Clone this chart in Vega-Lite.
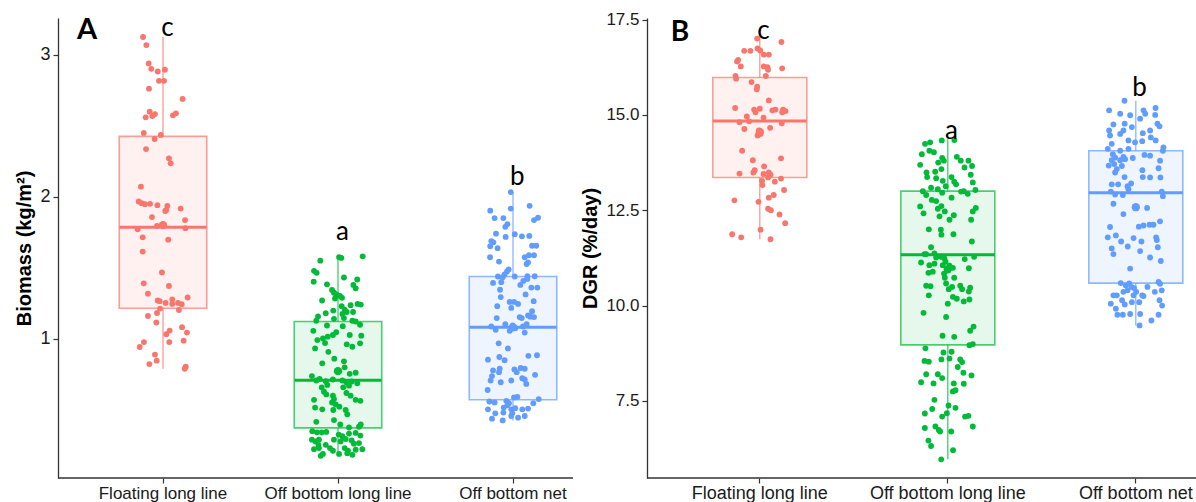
{
"$schema": "https://vega.github.io/schema/vega-lite/v6.json",
"padding": {"left": 14, "top": 10, "right": 0, "bottom": 0},
"bounds": "flush",
"spacing": 74,
"datasets": {
"boxA": [
{"g":"Floating long line","lo":0.788,"q1":1.214,"med":1.786,"q3":2.426,"hi":3.126,"mean":1.80},
{"g":"Off bottom long line","lo":0.174,"q1":0.371,"med":0.707,"q3":1.121,"hi":1.58,"mean":0.771},
{"g":"Off bottom net","lo":0.424,"q1":0.569,"med":1.081,"q3":1.438,"hi":2.033,"mean":1.08}
],
"boxB": [
{"g":"Floating long line","lo":11.74,"q1":13.36,"med":14.84,"q3":15.98,"hi":17.0,"mean":14.55},
{"g":"Off bottom long line","lo":5.97,"q1":8.97,"med":11.33,"q3":13.0,"hi":14.36,"mean":10.95},
{"g":"Off bottom net","lo":9.48,"q1":10.59,"med":12.96,"q3":14.06,"hi":15.37,"mean":12.58}
],
"lblA": [
{"g":"Floating long line","v":3.19,"t":"c"},
{"g":"Off bottom long line","v":1.75,"t":"a"},
{"g":"Off bottom net","v":2.14,"t":"b"}
],
"lblB": [
{"g":"Floating long line","v":17.2,"t":"c"},
{"g":"Off bottom long line","v":14.58,"t":"a"},
{"g":"Off bottom net","v":15.7,"t":"b"}
],
"tagA": [{"g":"Floating long line","v":3.175,"t":"A"}],
"tagB": [{"g":"Floating long line","v":17.15,"t":"B"}],
"ptsA": [
{"g":"Floating long line","v":3.126,"j":-0.114},{"g":"Floating long line","v":3.069,"j":-0.095},{"g":"Floating long line","v":2.940,"j":-0.082},{"g":"Floating long line","v":2.902,"j":-0.067},{"g":"Floating long line","v":2.883,"j":-0.030},{"g":"Floating long line","v":2.895,"j":0.011},{"g":"Floating long line","v":2.817,"j":-0.023},{"g":"Floating long line","v":2.817,"j":0.006},{"g":"Floating long line","v":2.762,"j":-0.080},{"g":"Floating long line","v":2.690,"j":0.112},{"g":"Floating long line","v":2.600,"j":-0.076},{"g":"Floating long line","v":2.560,"j":-0.099},{"g":"Floating long line","v":2.569,"j":-0.061},{"g":"Floating long line","v":2.583,"j":-0.046},{"g":"Floating long line","v":2.574,"j":0.057},{"g":"Floating long line","v":2.588,"j":0.074},{"g":"Floating long line","v":2.450,"j":-0.110},{"g":"Floating long line","v":2.436,"j":-0.013},{"g":"Floating long line","v":2.407,"j":-0.048},{"g":"Floating long line","v":2.336,"j":-0.097},{"g":"Floating long line","v":2.271,"j":0.034},{"g":"Floating long line","v":2.236,"j":0.044},{"g":"Floating long line","v":2.071,"j":-0.126},{"g":"Floating long line","v":1.967,"j":-0.139},{"g":"Floating long line","v":1.955,"j":-0.122},{"g":"Floating long line","v":1.948,"j":-0.103},{"g":"Floating long line","v":1.950,"j":-0.074},{"g":"Floating long line","v":1.941,"j":-0.032},{"g":"Floating long line","v":1.936,"j":0.025},{"g":"Floating long line","v":1.907,"j":0.019},{"g":"Floating long line","v":1.900,"j":0.013},{"g":"Floating long line","v":1.917,"j":0.101},{"g":"Floating long line","v":1.857,"j":-0.063},{"g":"Floating long line","v":1.836,"j":0.126},{"g":"Floating long line","v":1.771,"j":-0.145},{"g":"Floating long line","v":1.795,"j":-0.034},{"g":"Floating long line","v":1.779,"j":0.128},{"g":"Floating long line","v":1.714,"j":-0.116},{"g":"Floating long line","v":1.698,"j":0.030},{"g":"Floating long line","v":1.614,"j":-0.116},{"g":"Floating long line","v":1.467,"j":-0.006},{"g":"Floating long line","v":1.390,"j":-0.110},{"g":"Floating long line","v":1.371,"j":0.034},{"g":"Floating long line","v":1.317,"j":-0.086},{"g":"Floating long line","v":1.290,"j":0.141},{"g":"Floating long line","v":1.269,"j":-0.030},{"g":"Floating long line","v":1.264,"j":-0.019},{"g":"Floating long line","v":1.252,"j":0.015},{"g":"Floating long line","v":1.276,"j":0.053},{"g":"Floating long line","v":1.245,"j":0.053},{"g":"Floating long line","v":1.252,"j":0.086},{"g":"Floating long line","v":1.243,"j":0.107},{"g":"Floating long line","v":1.202,"j":0.091},{"g":"Floating long line","v":1.212,"j":-0.017},{"g":"Floating long line","v":1.181,"j":-0.034},{"g":"Floating long line","v":1.160,"j":-0.086},{"g":"Floating long line","v":1.114,"j":-0.038},{"g":"Floating long line","v":1.081,"j":0.109},{"g":"Floating long line","v":1.043,"j":0.137},{"g":"Floating long line","v":1.057,"j":0.038},{"g":"Floating long line","v":1.031,"j":0.019},{"g":"Floating long line","v":0.976,"j":-0.109},{"g":"Floating long line","v":0.941,"j":-0.133},{"g":"Floating long line","v":0.976,"j":0.036},{"g":"Floating long line","v":0.986,"j":0.118},{"g":"Floating long line","v":0.888,"j":-0.046},{"g":"Floating long line","v":0.845,"j":-0.036},{"g":"Floating long line","v":0.821,"j":-0.078},{"g":"Floating long line","v":0.802,"j":0.130},{"g":"Floating long line","v":0.788,"j":0.124},
{"g":"Off bottom long line","v":1.580,"j":0.141},{"g":"Off bottom long line","v":1.550,"j":-0.101},{"g":"Off bottom long line","v":1.575,"j":0.006},{"g":"Off bottom long line","v":1.569,"j":0.019},{"g":"Off bottom long line","v":1.478,"j":-0.137},{"g":"Off bottom long line","v":1.464,"j":-0.122},{"g":"Off bottom long line","v":1.402,"j":-0.139},{"g":"Off bottom long line","v":1.431,"j":0.034},{"g":"Off bottom long line","v":1.383,"j":-0.063},{"g":"Off bottom long line","v":1.417,"j":0.110},{"g":"Off bottom long line","v":1.379,"j":0.088},{"g":"Off bottom long line","v":1.355,"j":0.101},{"g":"Off bottom long line","v":1.343,"j":-0.034},{"g":"Off bottom long line","v":1.324,"j":-0.023},{"g":"Off bottom long line","v":1.312,"j":-0.010},{"g":"Off bottom long line","v":1.302,"j":0.011},{"g":"Off bottom long line","v":1.288,"j":0.023},{"g":"Off bottom long line","v":1.269,"j":-0.091},{"g":"Off bottom long line","v":1.283,"j":-0.017},{"g":"Off bottom long line","v":1.245,"j":0.112},{"g":"Off bottom long line","v":1.240,"j":0.130},{"g":"Off bottom long line","v":1.229,"j":0.021},{"g":"Off bottom long line","v":1.236,"j":0.072},{"g":"Off bottom long line","v":1.205,"j":0.038},{"g":"Off bottom long line","v":1.179,"j":-0.070},{"g":"Off bottom long line","v":1.198,"j":-0.027},{"g":"Off bottom long line","v":1.174,"j":0.025},{"g":"Off bottom long line","v":1.188,"j":0.050},{"g":"Off bottom long line","v":1.188,"j":0.086},{"g":"Off bottom long line","v":1.157,"j":-0.114},{"g":"Off bottom long line","v":1.126,"j":-0.124},{"g":"Off bottom long line","v":1.140,"j":-0.023},{"g":"Off bottom long line","v":1.145,"j":0.034},{"g":"Off bottom long line","v":1.126,"j":0.082},{"g":"Off bottom long line","v":1.121,"j":0.101},{"g":"Off bottom long line","v":1.098,"j":0.126},{"g":"Off bottom long line","v":1.093,"j":-0.063},{"g":"Off bottom long line","v":1.088,"j":0.027},{"g":"Off bottom long line","v":1.055,"j":-0.141},{"g":"Off bottom long line","v":1.002,"j":-0.086},{"g":"Off bottom long line","v":1.014,"j":-0.059},{"g":"Off bottom long line","v":1.026,"j":-0.029},{"g":"Off bottom long line","v":1.045,"j":-0.010},{"g":"Off bottom long line","v":1.026,"j":0.067},{"g":"Off bottom long line","v":1.021,"j":0.133},{"g":"Off bottom long line","v":0.967,"j":0.126},{"g":"Off bottom long line","v":0.990,"j":-0.118},{"g":"Off bottom long line","v":0.969,"j":-0.074},{"g":"Off bottom long line","v":0.931,"j":-0.131},{"g":"Off bottom long line","v":0.960,"j":0.050},{"g":"Off bottom long line","v":0.943,"j":0.082},{"g":"Off bottom long line","v":0.907,"j":-0.055},{"g":"Off bottom long line","v":0.859,"j":-0.021},{"g":"Off bottom long line","v":0.840,"j":0.034},{"g":"Off bottom long line","v":0.826,"j":-0.090},{"g":"Off bottom long line","v":0.798,"j":0.038},{"g":"Off bottom long line","v":0.760,"j":0.101},{"g":"Off bottom long line","v":0.752,"j":0.067},{"g":"Off bottom long line","v":0.736,"j":-0.149},{"g":"Off bottom long line","v":0.705,"j":-0.124},{"g":"Off bottom long line","v":0.717,"j":-0.105},{"g":"Off bottom long line","v":0.700,"j":-0.070},{"g":"Off bottom long line","v":0.674,"j":-0.061},{"g":"Off bottom long line","v":0.712,"j":-0.029},{"g":"Off bottom long line","v":0.705,"j":0.025},{"g":"Off bottom long line","v":0.693,"j":0.048},{"g":"Off bottom long line","v":0.698,"j":0.078},{"g":"Off bottom long line","v":0.686,"j":0.110},{"g":"Off bottom long line","v":0.657,"j":-0.093},{"g":"Off bottom long line","v":0.657,"j":0.030},{"g":"Off bottom long line","v":0.669,"j":0.063},{"g":"Off bottom long line","v":0.626,"j":-0.080},{"g":"Off bottom long line","v":0.607,"j":-0.067},{"g":"Off bottom long line","v":0.598,"j":-0.029},{"g":"Off bottom long line","v":0.574,"j":-0.023},{"g":"Off bottom long line","v":0.617,"j":0.048},{"g":"Off bottom long line","v":0.598,"j":0.072},{"g":"Off bottom long line","v":0.569,"j":-0.137},{"g":"Off bottom long line","v":0.550,"j":-0.034},{"g":"Off bottom long line","v":0.536,"j":-0.013},{"g":"Off bottom long line","v":0.569,"j":0.101},{"g":"Off bottom long line","v":0.562,"j":0.128},{"g":"Off bottom long line","v":0.514,"j":-0.131},{"g":"Off bottom long line","v":0.502,"j":-0.090},{"g":"Off bottom long line","v":0.497,"j":-0.027},{"g":"Off bottom long line","v":0.521,"j":0.008},{"g":"Off bottom long line","v":0.497,"j":0.044},{"g":"Off bottom long line","v":0.467,"j":0.053},{"g":"Off bottom long line","v":0.414,"j":-0.124},{"g":"Off bottom long line","v":0.426,"j":-0.023},{"g":"Off bottom long line","v":0.395,"j":0.013},{"g":"Off bottom long line","v":0.374,"j":0.063},{"g":"Off bottom long line","v":0.395,"j":0.130},{"g":"Off bottom long line","v":0.379,"j":0.120},{"g":"Off bottom long line","v":0.348,"j":-0.147},{"g":"Off bottom long line","v":0.340,"j":-0.120},{"g":"Off bottom long line","v":0.340,"j":-0.093},{"g":"Off bottom long line","v":0.343,"j":-0.067},{"g":"Off bottom long line","v":0.324,"j":0.004},{"g":"Off bottom long line","v":0.312,"j":0.025},{"g":"Off bottom long line","v":0.331,"j":0.063},{"g":"Off bottom long line","v":0.336,"j":0.101},{"g":"Off bottom long line","v":0.317,"j":0.128},{"g":"Off bottom long line","v":0.288,"j":-0.149},{"g":"Off bottom long line","v":0.276,"j":-0.128},{"g":"Off bottom long line","v":0.288,"j":-0.109},{"g":"Off bottom long line","v":0.288,"j":-0.023},{"g":"Off bottom long line","v":0.276,"j":0.015},{"g":"Off bottom long line","v":0.293,"j":0.044},{"g":"Off bottom long line","v":0.283,"j":0.078},{"g":"Off bottom long line","v":0.221,"j":-0.137},{"g":"Off bottom long line","v":0.229,"j":-0.109},{"g":"Off bottom long line","v":0.229,"j":-0.046},{"g":"Off bottom long line","v":0.210,"j":-0.029},{"g":"Off bottom long line","v":0.229,"j":0.038},{"g":"Off bottom long line","v":0.210,"j":0.057},{"g":"Off bottom long line","v":0.217,"j":0.101},{"g":"Off bottom long line","v":0.221,"j":0.139},{"g":"Off bottom long line","v":0.174,"j":-0.099},{"g":"Off bottom long line","v":0.188,"j":-0.086},{"g":"Off bottom long line","v":0.188,"j":0.006},{"g":"Off bottom long line","v":0.193,"j":0.053},{"g":"Off bottom long line","v":0.181,"j":0.082},{"g":"Off bottom long line","v":0.252,"j":-0.112},{"g":"Off bottom long line","v":0.252,"j":-0.070},{"g":"Off bottom long line","v":0.260,"j":0.091},{"g":"Off bottom long line","v":0.264,"j":0.120},
{"g":"Off bottom net","v":2.033,"j":-0.013},{"g":"Off bottom net","v":1.902,"j":-0.130},{"g":"Off bottom net","v":1.917,"j":-0.013},{"g":"Off bottom net","v":1.936,"j":0.095},{"g":"Off bottom net","v":1.850,"j":-0.105},{"g":"Off bottom net","v":1.850,"j":-0.055},{"g":"Off bottom net","v":1.807,"j":-0.032},{"g":"Off bottom net","v":1.788,"j":-0.044},{"g":"Off bottom net","v":1.836,"j":0.120},{"g":"Off bottom net","v":1.852,"j":0.143},{"g":"Off bottom net","v":1.740,"j":-0.097},{"g":"Off bottom net","v":1.717,"j":-0.042},{"g":"Off bottom net","v":1.736,"j":0.010},{"g":"Off bottom net","v":1.721,"j":0.051},{"g":"Off bottom net","v":1.724,"j":0.093},{"g":"Off bottom net","v":1.688,"j":-0.124},{"g":"Off bottom net","v":1.679,"j":-0.112},{"g":"Off bottom net","v":1.652,"j":-0.130},{"g":"Off bottom net","v":1.638,"j":-0.088},{"g":"Off bottom net","v":1.655,"j":0.109},{"g":"Off bottom net","v":1.655,"j":0.133},{"g":"Off bottom net","v":1.574,"j":-0.131},{"g":"Off bottom net","v":1.543,"j":-0.080},{"g":"Off bottom net","v":1.574,"j":0.067},{"g":"Off bottom net","v":1.588,"j":0.091},{"g":"Off bottom net","v":1.588,"j":0.120},{"g":"Off bottom net","v":1.526,"j":0.078},{"g":"Off bottom net","v":1.538,"j":0.086},{"g":"Off bottom net","v":1.488,"j":-0.025},{"g":"Off bottom net","v":1.474,"j":-0.034},{"g":"Off bottom net","v":1.452,"j":-0.048},{"g":"Off bottom net","v":1.438,"j":-0.086},{"g":"Off bottom net","v":1.433,"j":-0.059},{"g":"Off bottom net","v":1.438,"j":0.010},{"g":"Off bottom net","v":1.440,"j":0.082},{"g":"Off bottom net","v":1.440,"j":0.124},{"g":"Off bottom net","v":1.393,"j":-0.114},{"g":"Off bottom net","v":1.398,"j":-0.067},{"g":"Off bottom net","v":1.379,"j":0.042},{"g":"Off bottom net","v":1.407,"j":0.059},{"g":"Off bottom net","v":1.421,"j":0.082},{"g":"Off bottom net","v":1.360,"j":0.105},{"g":"Off bottom net","v":1.360,"j":0.139},{"g":"Off bottom net","v":1.345,"j":-0.074},{"g":"Off bottom net","v":1.312,"j":0.072},{"g":"Off bottom net","v":1.293,"j":-0.070},{"g":"Off bottom net","v":1.259,"j":-0.019},{"g":"Off bottom net","v":1.259,"j":0.006},{"g":"Off bottom net","v":1.245,"j":0.029},{"g":"Off bottom net","v":1.217,"j":-0.010},{"g":"Off bottom net","v":1.229,"j":-0.090},{"g":"Off bottom net","v":1.264,"j":0.118},{"g":"Off bottom net","v":1.193,"j":0.109},{"g":"Off bottom net","v":1.155,"j":0.099},{"g":"Off bottom net","v":1.145,"j":-0.093},{"g":"Off bottom net","v":1.152,"j":0.038},{"g":"Off bottom net","v":1.145,"j":0.050},{"g":"Off bottom net","v":1.164,"j":0.086},{"g":"Off bottom net","v":1.152,"j":0.120},{"g":"Off bottom net","v":1.102,"j":-0.044},{"g":"Off bottom net","v":1.086,"j":-0.124},{"g":"Off bottom net","v":1.093,"j":-0.002},{"g":"Off bottom net","v":1.074,"j":0.013},{"g":"Off bottom net","v":1.055,"j":-0.019},{"g":"Off bottom net","v":1.086,"j":0.057},{"g":"Off bottom net","v":1.102,"j":0.078},{"g":"Off bottom net","v":1.043,"j":0.067},{"g":"Off bottom net","v":1.062,"j":-0.099},{"g":"Off bottom net","v":0.967,"j":-0.082},{"g":"Off bottom net","v":0.931,"j":-0.029},{"g":"Off bottom net","v":0.883,"j":0.137},{"g":"Off bottom net","v":0.852,"j":-0.143},{"g":"Off bottom net","v":0.871,"j":-0.078},{"g":"Off bottom net","v":0.848,"j":-0.048},{"g":"Off bottom net","v":0.879,"j":0.088},{"g":"Off bottom net","v":0.776,"j":-0.114},{"g":"Off bottom net","v":0.788,"j":-0.076},{"g":"Off bottom net","v":0.764,"j":-0.080},{"g":"Off bottom net","v":0.783,"j":0.008},{"g":"Off bottom net","v":0.793,"j":0.044},{"g":"Off bottom net","v":0.788,"j":0.067},{"g":"Off bottom net","v":0.764,"j":0.021},{"g":"Off bottom net","v":0.736,"j":-0.120},{"g":"Off bottom net","v":0.705,"j":-0.128},{"g":"Off bottom net","v":0.745,"j":0.126},{"g":"Off bottom net","v":0.721,"j":0.053},{"g":"Off bottom net","v":0.693,"j":-0.070},{"g":"Off bottom net","v":0.705,"j":-0.010},{"g":"Off bottom net","v":0.712,"j":0.067},{"g":"Off bottom net","v":0.638,"j":-0.145},{"g":"Off bottom net","v":0.681,"j":0.076},{"g":"Off bottom net","v":0.557,"j":-0.135},{"g":"Off bottom net","v":0.550,"j":-0.105},{"g":"Off bottom net","v":0.562,"j":-0.038},{"g":"Off bottom net","v":0.545,"j":-0.023},{"g":"Off bottom net","v":0.586,"j":0.006},{"g":"Off bottom net","v":0.590,"j":0.025},{"g":"Off bottom net","v":0.574,"j":0.147},{"g":"Off bottom net","v":0.514,"j":-0.053},{"g":"Off bottom net","v":0.531,"j":-0.032},{"g":"Off bottom net","v":0.502,"j":-0.010},{"g":"Off bottom net","v":0.510,"j":0.013},{"g":"Off bottom net","v":0.502,"j":0.053},{"g":"Off bottom net","v":0.507,"j":0.086},{"g":"Off bottom net","v":0.545,"j":0.116},{"g":"Off bottom net","v":0.502,"j":-0.143},{"g":"Off bottom net","v":0.474,"j":-0.101},{"g":"Off bottom net","v":0.479,"j":-0.055},{"g":"Off bottom net","v":0.474,"j":-0.004},{"g":"Off bottom net","v":0.455,"j":0.067},{"g":"Off bottom net","v":0.436,"j":-0.120},{"g":"Off bottom net","v":0.424,"j":-0.059},{"g":"Off bottom net","v":0.455,"j":-0.010},{"g":"Off bottom net","v":0.443,"j":0.029}
],
"ptsB": [
{"g":"Floating long line","v":17.00,"j":-0.014},{"g":"Floating long line","v":16.91,"j":0.115},{"g":"Floating long line","v":16.68,"j":-0.083},{"g":"Floating long line","v":16.68,"j":-0.050},{"g":"Floating long line","v":16.74,"j":-0.012},{"g":"Floating long line","v":16.69,"j":0.002},{"g":"Floating long line","v":16.58,"j":0.021},{"g":"Floating long line","v":16.58,"j":0.048},{"g":"Floating long line","v":16.44,"j":-0.115},{"g":"Floating long line","v":16.27,"j":-0.101},{"g":"Floating long line","v":16.40,"j":-0.121},{"g":"Floating long line","v":16.27,"j":0.021},{"g":"Floating long line","v":16.25,"j":0.041},{"g":"Floating long line","v":16.22,"j":0.119},{"g":"Floating long line","v":16.18,"j":0.044},{"g":"Floating long line","v":16.02,"j":-0.129},{"g":"Floating long line","v":15.95,"j":-0.126},{"g":"Floating long line","v":16.02,"j":0.032},{"g":"Floating long line","v":15.86,"j":-0.044},{"g":"Floating long line","v":15.74,"j":-0.014},{"g":"Floating long line","v":15.67,"j":-0.016},{"g":"Floating long line","v":15.38,"j":0.048},{"g":"Floating long line","v":15.18,"j":-0.131},{"g":"Floating long line","v":15.14,"j":-0.030},{"g":"Floating long line","v":15.07,"j":-0.023},{"g":"Floating long line","v":15.16,"j":0.000},{"g":"Floating long line","v":15.12,"j":0.067},{"g":"Floating long line","v":15.14,"j":0.083},{"g":"Floating long line","v":15.14,"j":0.124},{"g":"Floating long line","v":15.10,"j":0.137},{"g":"Floating long line","v":15.07,"j":0.119},{"g":"Floating long line","v":14.96,"j":-0.069},{"g":"Floating long line","v":14.81,"j":-0.108},{"g":"Floating long line","v":14.83,"j":-0.057},{"g":"Floating long line","v":14.93,"j":0.020},{"g":"Floating long line","v":14.78,"j":0.117},{"g":"Floating long line","v":14.63,"j":-0.082},{"g":"Floating long line","v":14.66,"j":0.055},{"g":"Floating long line","v":14.59,"j":-0.005},{"g":"Floating long line","v":14.50,"j":0.004},{"g":"Floating long line","v":14.46,"j":-0.012},{"g":"Floating long line","v":14.06,"j":-0.094},{"g":"Floating long line","v":13.81,"j":-0.037},{"g":"Floating long line","v":13.86,"j":0.113},{"g":"Floating long line","v":13.65,"j":0.023},{"g":"Floating long line","v":13.55,"j":-0.027},{"g":"Floating long line","v":13.49,"j":-0.034},{"g":"Floating long line","v":13.46,"j":-0.108},{"g":"Floating long line","v":13.45,"j":0.020},{"g":"Floating long line","v":13.49,"j":0.048},{"g":"Floating long line","v":13.43,"j":0.057},{"g":"Floating long line","v":13.36,"j":0.044},{"g":"Floating long line","v":13.33,"j":0.113},{"g":"Floating long line","v":13.27,"j":0.012},{"g":"Floating long line","v":13.16,"j":0.014},{"g":"Floating long line","v":13.25,"j":0.080},{"g":"Floating long line","v":13.03,"j":0.129},{"g":"Floating long line","v":12.90,"j":0.074},{"g":"Floating long line","v":12.83,"j":0.048},{"g":"Floating long line","v":12.76,"j":-0.135},{"g":"Floating long line","v":12.72,"j":-0.007},{"g":"Floating long line","v":12.54,"j":0.044},{"g":"Floating long line","v":12.50,"j":0.059},{"g":"Floating long line","v":12.39,"j":0.105},{"g":"Floating long line","v":12.16,"j":0.135},{"g":"Floating long line","v":11.99,"j":0.004},{"g":"Floating long line","v":11.87,"j":-0.147},{"g":"Floating long line","v":11.79,"j":-0.099},{"g":"Floating long line","v":11.74,"j":0.057},
{"g":"Off bottom long line","v":14.24,"j":-0.121},{"g":"Off bottom long line","v":14.28,"j":-0.094},{"g":"Off bottom long line","v":14.33,"j":-0.032},{"g":"Off bottom long line","v":14.34,"j":0.035},{"g":"Off bottom long line","v":13.97,"j":-0.138},{"g":"Off bottom long line","v":14.06,"j":-0.098},{"g":"Off bottom long line","v":14.02,"j":-0.074},{"g":"Off bottom long line","v":13.87,"j":-0.030},{"g":"Off bottom long line","v":13.75,"j":-0.051},{"g":"Off bottom long line","v":13.80,"j":-0.021},{"g":"Off bottom long line","v":13.90,"j":0.048},{"g":"Off bottom long line","v":13.80,"j":0.069},{"g":"Off bottom long line","v":13.80,"j":0.110},{"g":"Off bottom long line","v":13.66,"j":0.129},{"g":"Off bottom long line","v":13.69,"j":-0.147},{"g":"Off bottom long line","v":13.49,"j":-0.113},{"g":"Off bottom long line","v":13.51,"j":-0.067},{"g":"Off bottom long line","v":13.58,"j":-0.034},{"g":"Off bottom long line","v":13.62,"j":0.089},{"g":"Off bottom long line","v":13.37,"j":-0.110},{"g":"Off bottom long line","v":13.34,"j":-0.062},{"g":"Off bottom long line","v":13.27,"j":-0.027},{"g":"Off bottom long line","v":13.37,"j":0.020},{"g":"Off bottom long line","v":13.25,"j":0.034},{"g":"Off bottom long line","v":13.43,"j":0.122},{"g":"Off bottom long line","v":13.23,"j":0.133},{"g":"Off bottom long line","v":13.09,"j":-0.089},{"g":"Off bottom long line","v":13.05,"j":-0.053},{"g":"Off bottom long line","v":13.13,"j":-0.011},{"g":"Off bottom long line","v":13.18,"j":0.044},{"g":"Off bottom long line","v":13.00,"j":0.085},{"g":"Off bottom long line","v":13.03,"j":0.147},{"g":"Off bottom long line","v":13.00,"j":-0.133},{"g":"Off bottom long line","v":12.90,"j":-0.115},{"g":"Off bottom long line","v":12.77,"j":-0.085},{"g":"Off bottom long line","v":12.74,"j":-0.062},{"g":"Off bottom long line","v":12.96,"j":-0.030},{"g":"Off bottom long line","v":12.83,"j":0.020},{"g":"Off bottom long line","v":12.99,"j":0.071},{"g":"Off bottom long line","v":12.93,"j":0.106},{"g":"Off bottom long line","v":12.60,"j":-0.147},{"g":"Off bottom long line","v":12.42,"j":-0.129},{"g":"Off bottom long line","v":12.54,"j":-0.053},{"g":"Off bottom long line","v":12.61,"j":-0.034},{"g":"Off bottom long line","v":12.47,"j":-0.016},{"g":"Off bottom long line","v":12.37,"j":0.032},{"g":"Off bottom long line","v":12.56,"j":0.149},{"g":"Off bottom long line","v":12.47,"j":0.133},{"g":"Off bottom long line","v":12.25,"j":0.124},{"g":"Off bottom long line","v":12.34,"j":-0.044},{"g":"Off bottom long line","v":12.25,"j":0.009},{"g":"Off bottom long line","v":12.00,"j":-0.101},{"g":"Off bottom long line","v":11.99,"j":-0.037},{"g":"Off bottom long line","v":11.86,"j":-0.034},{"g":"Off bottom long line","v":11.87,"j":0.030},{"g":"Off bottom long line","v":11.68,"j":0.128},{"g":"Off bottom long line","v":11.53,"j":-0.089},{"g":"Off bottom long line","v":11.35,"j":-0.115},{"g":"Off bottom long line","v":11.37,"j":-0.071},{"g":"Off bottom long line","v":11.26,"j":-0.062},{"g":"Off bottom long line","v":11.28,"j":-0.035},{"g":"Off bottom long line","v":11.35,"j":-0.124},{"g":"Off bottom long line","v":11.24,"j":-0.018},{"g":"Off bottom long line","v":11.15,"j":-0.012},{"g":"Off bottom long line","v":11.05,"j":0.009},{"g":"Off bottom long line","v":10.99,"j":0.027},{"g":"Off bottom long line","v":11.22,"j":0.090},{"g":"Off bottom long line","v":11.28,"j":0.140},{"g":"Off bottom long line","v":11.13,"j":-0.142},{"g":"Off bottom long line","v":11.06,"j":-0.098},{"g":"Off bottom long line","v":11.10,"j":-0.071},{"g":"Off bottom long line","v":10.86,"j":-0.103},{"g":"Off bottom long line","v":10.89,"j":-0.080},{"g":"Off bottom long line","v":11.06,"j":-0.027},{"g":"Off bottom long line","v":10.84,"j":-0.020},{"g":"Off bottom long line","v":10.73,"j":-0.016},{"g":"Off bottom long line","v":10.58,"j":-0.009},{"g":"Off bottom long line","v":10.73,"j":0.034},{"g":"Off bottom long line","v":10.98,"j":0.112},{"g":"Off bottom long line","v":10.52,"j":-0.115},{"g":"Off bottom long line","v":10.51,"j":-0.092},{"g":"Off bottom long line","v":10.27,"j":-0.101},{"g":"Off bottom long line","v":10.43,"j":0.005},{"g":"Off bottom long line","v":10.49,"j":0.023},{"g":"Off bottom long line","v":10.52,"j":0.066},{"g":"Off bottom long line","v":10.43,"j":0.076},{"g":"Off bottom long line","v":10.47,"j":0.119},{"g":"Off bottom long line","v":10.37,"j":0.112},{"g":"Off bottom long line","v":10.23,"j":0.027},{"g":"Off bottom long line","v":10.05,"j":0.000},{"g":"Off bottom long line","v":10.18,"j":0.048},{"g":"Off bottom long line","v":10.11,"j":0.085},{"g":"Off bottom long line","v":10.16,"j":0.115},{"g":"Off bottom long line","v":9.81,"j":-0.129},{"g":"Off bottom long line","v":9.70,"j":-0.009},{"g":"Off bottom long line","v":9.21,"j":-0.028},{"g":"Off bottom long line","v":9.18,"j":0.034},{"g":"Off bottom long line","v":9.34,"j":0.119},{"g":"Off bottom long line","v":9.45,"j":0.137},{"g":"Off bottom long line","v":8.96,"j":0.115},{"g":"Off bottom long line","v":8.99,"j":0.133},{"g":"Off bottom long line","v":8.88,"j":-0.119},{"g":"Off bottom long line","v":8.77,"j":-0.023},{"g":"Off bottom long line","v":8.79,"j":0.020},{"g":"Off bottom long line","v":8.55,"j":-0.124},{"g":"Off bottom long line","v":8.53,"j":-0.101},{"g":"Off bottom long line","v":8.59,"j":-0.034},{"g":"Off bottom long line","v":8.61,"j":0.009},{"g":"Off bottom long line","v":8.59,"j":0.066},{"g":"Off bottom long line","v":8.52,"j":0.076},{"g":"Off bottom long line","v":8.39,"j":0.053},{"g":"Off bottom long line","v":8.24,"j":0.083},{"g":"Off bottom long line","v":8.20,"j":-0.115},{"g":"Off bottom long line","v":8.20,"j":-0.053},{"g":"Off bottom long line","v":8.10,"j":-0.030},{"g":"Off bottom long line","v":8.17,"j":0.126},{"g":"Off bottom long line","v":7.99,"j":-0.142},{"g":"Off bottom long line","v":7.96,"j":-0.076},{"g":"Off bottom long line","v":7.96,"j":0.032},{"g":"Off bottom long line","v":7.75,"j":0.027},{"g":"Off bottom long line","v":7.78,"j":0.041},{"g":"Off bottom long line","v":7.95,"j":0.085},{"g":"Off bottom long line","v":7.53,"j":-0.071},{"g":"Off bottom long line","v":7.38,"j":0.004},{"g":"Off bottom long line","v":7.29,"j":-0.083},{"g":"Off bottom long line","v":7.17,"j":-0.122},{"g":"Off bottom long line","v":7.09,"j":-0.030},{"g":"Off bottom long line","v":7.18,"j":-0.005},{"g":"Off bottom long line","v":7.32,"j":0.041},{"g":"Off bottom long line","v":7.09,"j":0.092},{"g":"Off bottom long line","v":7.11,"j":0.110},{"g":"Off bottom long line","v":6.83,"j":0.133},{"g":"Off bottom long line","v":6.79,"j":-0.122},{"g":"Off bottom long line","v":6.83,"j":-0.066},{"g":"Off bottom long line","v":6.74,"j":-0.048},{"g":"Off bottom long line","v":6.70,"j":-0.041},{"g":"Off bottom long line","v":6.70,"j":0.018},{"g":"Off bottom long line","v":6.46,"j":-0.103},{"g":"Off bottom long line","v":6.32,"j":-0.089},{"g":"Off bottom long line","v":6.21,"j":0.028},{"g":"Off bottom long line","v":5.97,"j":-0.035},
{"g":"Off bottom net","v":15.37,"j":-0.060},{"g":"Off bottom net","v":15.12,"j":-0.142},{"g":"Off bottom net","v":15.03,"j":-0.083},{"g":"Off bottom net","v":14.99,"j":-0.030},{"g":"Off bottom net","v":15.12,"j":0.041},{"g":"Off bottom net","v":15.18,"j":0.105},{"g":"Off bottom net","v":15.03,"j":0.050},{"g":"Off bottom net","v":15.00,"j":0.103},{"g":"Off bottom net","v":14.75,"j":-0.119},{"g":"Off bottom net","v":14.77,"j":-0.059},{"g":"Off bottom net","v":14.90,"j":0.023},{"g":"Off bottom net","v":14.59,"j":0.076},{"g":"Off bottom net","v":14.77,"j":0.115},{"g":"Off bottom net","v":14.70,"j":0.126},{"g":"Off bottom net","v":14.59,"j":-0.142},{"g":"Off bottom net","v":14.46,"j":-0.137},{"g":"Off bottom net","v":14.59,"j":-0.066},{"g":"Off bottom net","v":14.68,"j":-0.021},{"g":"Off bottom net","v":14.50,"j":-0.083},{"g":"Off bottom net","v":14.52,"j":0.037},{"g":"Off bottom net","v":14.41,"j":0.080},{"g":"Off bottom net","v":14.33,"j":0.106},{"g":"Off bottom net","v":14.33,"j":-0.039},{"g":"Off bottom net","v":14.28,"j":-0.004},{"g":"Off bottom net","v":14.31,"j":0.034},{"g":"Off bottom net","v":14.24,"j":-0.128},{"g":"Off bottom net","v":14.11,"j":-0.149},{"g":"Off bottom net","v":14.06,"j":-0.083},{"g":"Off bottom net","v":14.11,"j":-0.039},{"g":"Off bottom net","v":14.15,"j":0.147},{"g":"Off bottom net","v":14.06,"j":0.144},{"g":"Off bottom net","v":13.97,"j":-0.122},{"g":"Off bottom net","v":13.88,"j":-0.110},{"g":"Off bottom net","v":13.90,"j":-0.066},{"g":"Off bottom net","v":13.87,"j":-0.016},{"g":"Off bottom net","v":13.95,"j":0.046},{"g":"Off bottom net","v":13.81,"j":-0.128},{"g":"Off bottom net","v":13.71,"j":-0.115},{"g":"Off bottom net","v":13.81,"j":-0.083},{"g":"Off bottom net","v":13.84,"j":-0.057},{"g":"Off bottom net","v":13.93,"j":0.076},{"g":"Off bottom net","v":13.80,"j":0.129},{"g":"Off bottom net","v":13.67,"j":-0.144},{"g":"Off bottom net","v":13.58,"j":-0.101},{"g":"Off bottom net","v":13.66,"j":-0.074},{"g":"Off bottom net","v":13.49,"j":-0.110},{"g":"Off bottom net","v":13.55,"j":0.035},{"g":"Off bottom net","v":13.60,"j":0.121},{"g":"Off bottom net","v":13.37,"j":-0.060},{"g":"Off bottom net","v":13.37,"j":0.037},{"g":"Off bottom net","v":13.36,"j":0.076},{"g":"Off bottom net","v":13.36,"j":0.131},{"g":"Off bottom net","v":13.18,"j":-0.128},{"g":"Off bottom net","v":13.18,"j":-0.094},{"g":"Off bottom net","v":13.20,"j":-0.025},{"g":"Off bottom net","v":13.13,"j":-0.044},{"g":"Off bottom net","v":13.05,"j":-0.039},{"g":"Off bottom net","v":12.99,"j":-0.133},{"g":"Off bottom net","v":12.91,"j":-0.110},{"g":"Off bottom net","v":12.90,"j":-0.069},{"g":"Off bottom net","v":12.99,"j":0.138},{"g":"Off bottom net","v":12.87,"j":0.144},{"g":"Off bottom net","v":12.67,"j":-0.119},{"g":"Off bottom net","v":12.56,"j":0.060},{"g":"Off bottom net","v":12.40,"j":-0.066},{"g":"Off bottom net","v":12.06,"j":-0.137},{"g":"Off bottom net","v":12.10,"j":0.041},{"g":"Off bottom net","v":12.12,"j":0.073},{"g":"Off bottom net","v":12.12,"j":0.094},{"g":"Off bottom net","v":12.07,"j":0.016},{"g":"Off bottom net","v":12.21,"j":0.129},{"g":"Off bottom net","v":11.79,"j":-0.149},{"g":"Off bottom net","v":11.84,"j":-0.106},{"g":"Off bottom net","v":11.68,"j":-0.078},{"g":"Off bottom net","v":11.77,"j":-0.012},{"g":"Off bottom net","v":11.68,"j":0.030},{"g":"Off bottom net","v":11.79,"j":0.108},{"g":"Off bottom net","v":11.72,"j":0.112},{"g":"Off bottom net","v":11.50,"j":-0.128},{"g":"Off bottom net","v":11.55,"j":-0.043},{"g":"Off bottom net","v":11.53,"j":0.117},{"g":"Off bottom net","v":11.35,"j":-0.119},{"g":"Off bottom net","v":11.43,"j":0.023},{"g":"Off bottom net","v":11.26,"j":0.076},{"g":"Off bottom net","v":11.17,"j":0.133},{"g":"Off bottom net","v":10.97,"j":-0.030},{"g":"Off bottom net","v":10.59,"j":-0.080},{"g":"Off bottom net","v":10.53,"j":-0.053},{"g":"Off bottom net","v":10.58,"j":-0.035},{"g":"Off bottom net","v":10.49,"j":-0.023},{"g":"Off bottom net","v":10.46,"j":-0.009},{"g":"Off bottom net","v":10.36,"j":0.002},{"g":"Off bottom net","v":10.40,"j":-0.044},{"g":"Off bottom net","v":10.36,"j":-0.066},{"g":"Off bottom net","v":10.49,"j":0.062},{"g":"Off bottom net","v":10.36,"j":0.101},{"g":"Off bottom net","v":10.62,"j":0.121},{"g":"Off bottom net","v":10.57,"j":0.129},{"g":"Off bottom net","v":10.40,"j":0.138},{"g":"Off bottom net","v":10.27,"j":-0.119},{"g":"Off bottom net","v":10.27,"j":-0.101},{"g":"Off bottom net","v":10.14,"j":-0.073},{"g":"Off bottom net","v":10.27,"j":-0.012},{"g":"Off bottom net","v":10.27,"j":0.034},{"g":"Off bottom net","v":10.25,"j":0.041},{"g":"Off bottom net","v":10.14,"j":0.126},{"g":"Off bottom net","v":10.05,"j":-0.133},{"g":"Off bottom net","v":9.92,"j":-0.106},{"g":"Off bottom net","v":10.03,"j":-0.059},{"g":"Off bottom net","v":10.09,"j":-0.021},{"g":"Off bottom net","v":10.09,"j":0.018},{"g":"Off bottom net","v":10.00,"j":0.140},{"g":"Off bottom net","v":9.76,"j":-0.098},{"g":"Off bottom net","v":9.76,"j":-0.069},{"g":"Off bottom net","v":9.78,"j":-0.030},{"g":"Off bottom net","v":9.78,"j":0.023},{"g":"Off bottom net","v":9.61,"j":0.083},{"g":"Off bottom net","v":9.76,"j":0.121},{"g":"Off bottom net","v":9.48,"j":0.020}
]
},
"hconcat": [
{
"width": 515, "height": 460,
"resolve": {"scale": {"xOffset": "independent"}},
"layer": [
{"data": {"name": "boxA"}, "mark": {"type": "rule", "strokeWidth": 1.3, "opacity": 0.75},
 "encoding": {
  "x": {"field": "g", "type": "nominal", "title": null, "scale": {"domain": ["Floating long line","Off bottom long line","Off bottom net"], "range": [0, 560], "paddingInner": 0, "paddingOuter": 0.1}, "axis": {"labelFontSize": 17}},
  "y": {"field": "q3", "type": "quantitative", "title": "Biomass (kg/m²)", "scale": {"domain": [0.018, 3.26], "nice": false, "zero": false}, "axis": {"values": [1,2,3], "format": "d", "labelFontSize": 18, "titleFontSize": 20, "titlePadding": 5}},
  "y2": {"field": "hi"},
  "color": {"field": "g", "type": "nominal", "scale": {"domain": ["Floating long line","Off bottom long line","Off bottom net"], "range": ["#F8766D","#00BA38","#619CFF"]}, "legend": null}}},
{"data": {"name": "boxA"}, "mark": {"type": "rule", "strokeWidth": 1.3, "opacity": 0.75},
 "encoding": {
  "x": {"field": "g", "type": "nominal", "title": null},
  "y": {"field": "lo", "type": "quantitative", "title": "Biomass (kg/m²)"},
  "y2": {"field": "q1"},
  "color": {"field": "g", "type": "nominal", "legend": null}}},
{"data": {"name": "boxA"}, "mark": {"type": "bar", "width": {"band": 0.5}, "fillOpacity": 0.1, "strokeOpacity": 0.7, "strokeWidth": 1.6},
 "encoding": {
  "x": {"field": "g", "type": "nominal", "title": null},
  "y": {"field": "q1", "type": "quantitative", "title": "Biomass (kg/m²)"},
  "y2": {"field": "q3"},
  "fill": {"field": "g", "type": "nominal", "scale": {"domain": ["Floating long line","Off bottom long line","Off bottom net"], "range": ["#F8766D","#00BA38","#619CFF"]}, "legend": null},
  "stroke": {"field": "g", "type": "nominal", "scale": {"domain": ["Floating long line","Off bottom long line","Off bottom net"], "range": ["#F8766D","#00BA38","#619CFF"]}, "legend": null}}},
{"data": {"name": "boxA"}, "mark": {"type": "tick", "thickness": 3, "size": 87, "opacity": 1},
 "encoding": {
  "x": {"field": "g", "type": "nominal", "title": null},
  "y": {"field": "med", "type": "quantitative", "title": "Biomass (kg/m²)"},
  "color": {"field": "g", "type": "nominal", "legend": null}}},
{"data": {"name": "ptsA"}, "mark": {"type": "circle", "size": 34, "opacity": 1},
 "encoding": {
  "x": {"field": "g", "type": "nominal", "title": null},
  "xOffset": {"field": "j", "type": "quantitative", "scale": {"domain": [-0.5, 0.5]}},
  "y": {"field": "v", "type": "quantitative", "title": "Biomass (kg/m²)"},
  "color": {"field": "g", "type": "nominal", "legend": null}}},
{"data": {"name": "boxA"}, "mark": {"type": "circle", "size": 70, "opacity": 1},
 "encoding": {
  "x": {"field": "g", "type": "nominal", "title": null},
  "y": {"field": "mean", "type": "quantitative", "title": "Biomass (kg/m²)"},
  "color": {"field": "g", "type": "nominal", "legend": null}}},
{"data": {"name": "lblA"}, "mark": {"type": "text", "font": "Lato", "fontSize": 26, "baseline": "middle", "align": "center", "color": "#000000"},
 "encoding": {
  "x": {"field": "g", "type": "nominal", "title": null, "bandPosition": 0.525},
  "y": {"field": "v", "type": "quantitative", "title": "Biomass (kg/m²)"},
  "text": {"field": "t"}}},
{"data": {"name": "tagA"}, "mark": {"type": "text", "font": "Lato", "fontSize": 29, "fontWeight": "bold", "baseline": "middle", "align": "center", "color": "#000000"},
 "encoding": {
  "x": {"field": "g", "type": "nominal", "title": null, "bandPosition": 0.066},
  "y": {"field": "v", "type": "quantitative", "title": "Biomass (kg/m²)"},
  "text": {"field": "t"}}},
{"data": {"values": [{}]}, "mark": {"type": "rule", "color": "#333333", "strokeWidth": 1.3},
 "encoding": {"y": {"datum": 0.018, "type": "quantitative", "title": "Biomass (kg/m²)"}}}
]
},
{
"width": 551, "height": 460,
"resolve": {"scale": {"xOffset": "independent"}},
"layer": [
{"data": {"name": "boxB"}, "mark": {"type": "rule", "strokeWidth": 1.3, "opacity": 0.75},
 "encoding": {
  "x": {"field": "g", "type": "nominal", "title": null, "scale": {"domain": ["Floating long line","Off bottom long line","Off bottom net"], "range": [0, 601.6], "paddingInner": 0, "paddingOuter": 0.1}, "axis": {"labelFontSize": 18, "labelPadding": 1}},
  "y": {"field": "q3", "type": "quantitative", "title": "DGR (%/day)", "scale": {"domain": [5.48, 17.54], "nice": false, "zero": false}, "axis": {"values": [7.5,10,12.5,15,17.5], "format": ".1f", "labelFontSize": 17, "titleFontSize": 20, "titlePadding": 5}},
  "y2": {"field": "hi"},
  "color": {"field": "g", "type": "nominal", "scale": {"domain": ["Floating long line","Off bottom long line","Off bottom net"], "range": ["#F8766D","#00BA38","#619CFF"]}, "legend": null}}},
{"data": {"name": "boxB"}, "mark": {"type": "rule", "strokeWidth": 1.3, "opacity": 0.75},
 "encoding": {
  "x": {"field": "g", "type": "nominal", "title": null},
  "y": {"field": "lo", "type": "quantitative", "title": "DGR (%/day)"},
  "y2": {"field": "q1"},
  "color": {"field": "g", "type": "nominal", "legend": null}}},
{"data": {"name": "boxB"}, "mark": {"type": "bar", "width": {"band": 0.5}, "fillOpacity": 0.1, "strokeOpacity": 0.7, "strokeWidth": 1.6},
 "encoding": {
  "x": {"field": "g", "type": "nominal", "title": null},
  "y": {"field": "q1", "type": "quantitative", "title": "DGR (%/day)"},
  "y2": {"field": "q3"},
  "fill": {"field": "g", "type": "nominal", "scale": {"domain": ["Floating long line","Off bottom long line","Off bottom net"], "range": ["#F8766D","#00BA38","#619CFF"]}, "legend": null},
  "stroke": {"field": "g", "type": "nominal", "scale": {"domain": ["Floating long line","Off bottom long line","Off bottom net"], "range": ["#F8766D","#00BA38","#619CFF"]}, "legend": null}}},
{"data": {"name": "boxB"}, "mark": {"type": "tick", "thickness": 3, "size": 94, "opacity": 1},
 "encoding": {
  "x": {"field": "g", "type": "nominal", "title": null},
  "y": {"field": "med", "type": "quantitative", "title": "DGR (%/day)"},
  "color": {"field": "g", "type": "nominal", "legend": null}}},
{"data": {"name": "ptsB"}, "mark": {"type": "circle", "size": 34, "opacity": 1},
 "encoding": {
  "x": {"field": "g", "type": "nominal", "title": null},
  "xOffset": {"field": "j", "type": "quantitative", "scale": {"domain": [-0.5, 0.5]}},
  "y": {"field": "v", "type": "quantitative", "title": "DGR (%/day)"},
  "color": {"field": "g", "type": "nominal", "legend": null}}},
{"data": {"name": "boxB"}, "mark": {"type": "circle", "size": 70, "opacity": 1},
 "encoding": {
  "x": {"field": "g", "type": "nominal", "title": null},
  "y": {"field": "mean", "type": "quantitative", "title": "DGR (%/day)"},
  "color": {"field": "g", "type": "nominal", "legend": null}}},
{"data": {"name": "lblB"}, "mark": {"type": "text", "font": "Lato", "fontSize": 26, "baseline": "middle", "align": "center", "color": "#000000"},
 "encoding": {
  "x": {"field": "g", "type": "nominal", "title": null, "bandPosition": 0.52},
  "y": {"field": "v", "type": "quantitative", "title": "DGR (%/day)"},
  "text": {"field": "t"}}},
{"data": {"name": "tagB"}, "mark": {"type": "text", "font": "Lato", "fontSize": 28, "fontWeight": "bold", "baseline": "middle", "align": "center", "color": "#000000"},
 "encoding": {
  "x": {"field": "g", "type": "nominal", "title": null, "bandPosition": 0.075},
  "y": {"field": "v", "type": "quantitative", "title": "DGR (%/day)"},
  "text": {"field": "t"}}},
{"data": {"values": [{}]}, "mark": {"type": "rule", "color": "#333333", "strokeWidth": 1.3},
 "encoding": {"y": {"datum": 5.48, "type": "quantitative", "title": "DGR (%/day)"}}}
]
}
],
"config": {
 "view": {"stroke": null},
 "axis": {"grid": false, "domainColor": "#333333", "domainWidth": 1.3, "tickColor": "#333333", "tickWidth": 1.2, "tickSize": 5, "labelColor": "#1a1a1a", "labelFont": "Liberation Sans", "titleFont": "Liberation Sans", "titleFontWeight": "bold", "titleColor": "#000000"},
 "axisX": {"domain": false, "labelPadding": 2, "labelAngle": 0},
 "axisY": {"labelPadding": 3}
}
}
